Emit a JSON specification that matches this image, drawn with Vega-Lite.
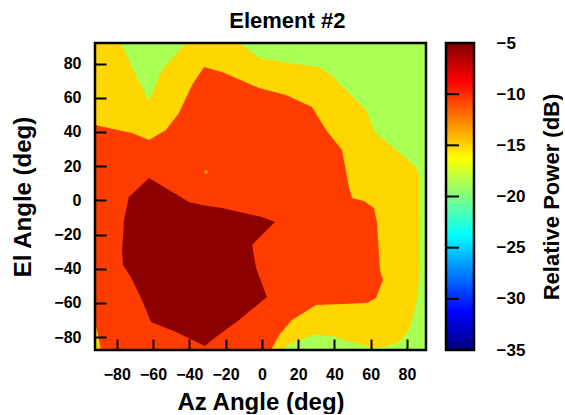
{
  "$schema": "https://vega.github.io/schema/vega-lite/v6.json",
  "padding": {"left": 11, "top": 10, "right": 0, "bottom": 0},
  "background": "white",
  "title": {"text": "Element #2", "fontSize": 22, "font": "Liberation Sans", "fontWeight": "bold", "color": "black", "anchor": "middle", "frame": "bounds", "offset": 1},
  "datasets": {
    "base": [{"level": -18.75}],
    "yellow": [
      {"i": 1, "az": -92, "el": 92, "level": -15.07}, {"i": 2, "az": -77.7, "el": 92, "level": -15.07}, {"i": 3, "az": -70.5, "el": 75.0, "level": -15.07},
      {"i": 4, "az": -62.2, "el": 58.1, "level": -15.07}, {"i": 5, "az": -55.1, "el": 76.2, "level": -15.07}, {"i": 6, "az": -41.8, "el": 92, "level": -15.07},
      {"i": 7, "az": -12.6, "el": 92, "level": -15.07}, {"i": 8, "az": -1.6, "el": 83.2, "level": -15.07}, {"i": 9, "az": 15.0, "el": 80.3, "level": -15.07},
      {"i": 10, "az": 31.5, "el": 78.0, "level": -15.07}, {"i": 11, "az": 38.1, "el": 73.3, "level": -15.07}, {"i": 12, "az": 46.4, "el": 64.5, "level": -15.07},
      {"i": 13, "az": 57.4, "el": 52.8, "level": -15.07}, {"i": 14, "az": 62.4, "el": 40.0, "level": -15.07}, {"i": 15, "az": 85.0, "el": 19.5, "level": -15.07},
      {"i": 16, "az": 86.6, "el": 14.8, "level": -15.07}, {"i": 17, "az": 87.2, "el": -34.9, "level": -15.07}, {"i": 18, "az": 86.1, "el": -54.2, "level": -15.07},
      {"i": 19, "az": 83.9, "el": -65.9, "level": -15.07}, {"i": 20, "az": 81.1, "el": -75.8, "level": -15.07}, {"i": 21, "az": 75.6, "el": -82.9, "level": -15.07},
      {"i": 22, "az": 67.3, "el": -85.8, "level": -15.07}, {"i": 23, "az": 60.7, "el": -86.4, "level": -15.07}, {"i": 24, "az": 49.7, "el": -82.9, "level": -15.07},
      {"i": 25, "az": 38.7, "el": -79.3, "level": -15.07}, {"i": 26, "az": 28.7, "el": -78.8, "level": -15.07}, {"i": 27, "az": 20.5, "el": -81.7, "level": -15.07},
      {"i": 28, "az": 9.5, "el": -87.5, "level": -15.07}, {"i": 29, "az": -92, "el": -87.5, "level": -15.07}
    ],
    "orange": [
      {"i": 1, "az": -92, "el": 44.0, "level": -10.5}, {"i": 2, "az": -71.6, "el": 39.4, "level": -10.5}, {"i": 3, "az": -62.2, "el": 35.3, "level": -10.5},
      {"i": 4, "az": -52.9, "el": 41.1, "level": -10.5}, {"i": 5, "az": -45.7, "el": 51.1, "level": -10.5}, {"i": 6, "az": -38.5, "el": 67.4, "level": -10.5},
      {"i": 7, "az": -31.9, "el": 78.0, "level": -10.5}, {"i": 8, "az": -22.0, "el": 75.0, "level": -10.5}, {"i": 9, "az": -1.6, "el": 65.7, "level": -10.5},
      {"i": 10, "az": 13.3, "el": 61.6, "level": -10.5}, {"i": 11, "az": 27.6, "el": 54.6, "level": -10.5}, {"i": 12, "az": 35.4, "el": 41.1, "level": -10.5},
      {"i": 13, "az": 44.2, "el": 29.4, "level": -10.5}, {"i": 14, "az": 48.0, "el": 7.8, "level": -10.5}, {"i": 15, "az": 49.7, "el": 1.4, "level": -10.5},
      {"i": 16, "az": 56.3, "el": -0.4, "level": -10.5}, {"i": 17, "az": 61.8, "el": -4.5, "level": -10.5}, {"i": 18, "az": 63.5, "el": -13.3, "level": -10.5},
      {"i": 19, "az": 65.1, "el": -40.7, "level": -10.5}, {"i": 20, "az": 66.8, "el": -46.6, "level": -10.5}, {"i": 21, "az": 62.9, "el": -57.1, "level": -10.5},
      {"i": 22, "az": 58.0, "el": -60.0, "level": -10.5}, {"i": 23, "az": 29.9, "el": -61.2, "level": -10.5}, {"i": 24, "az": 16.6, "el": -70.0, "level": -10.5},
      {"i": 25, "az": 9.5, "el": -78.8, "level": -10.5}, {"i": 26, "az": 5.0, "el": -87.5, "level": -10.5}, {"i": 27, "az": -92, "el": -87.5, "level": -10.5}
    ],
    "sliver": [
      {"i": 1, "az": -92, "el": -71.2, "level": -15.07}, {"i": 2, "az": -90.3, "el": -78.8, "level": -15.07}, {"i": 3, "az": -88.7, "el": -87.5, "level": -15.07},
      {"i": 4, "az": -92, "el": -87.5, "level": -15.07}
    ],
    "darkred": [
      {"i": 1, "az": -62.2, "el": 13.1, "level": -5.38}, {"i": 2, "az": -40.2, "el": -1.0, "level": -5.38}, {"i": 3, "az": -33.0, "el": -2.7, "level": -5.38},
      {"i": 4, "az": -22.0, "el": -4.5, "level": -5.38}, {"i": 5, "az": 0.1, "el": -9.8, "level": -5.38}, {"i": 6, "az": 7.2, "el": -12.7, "level": -5.38},
      {"i": 7, "az": -5.4, "el": -26.1, "level": -5.38}, {"i": 8, "az": -3.2, "el": -39.6, "level": -5.38}, {"i": 9, "az": 2.8, "el": -56.5, "level": -5.38},
      {"i": 10, "az": -12.6, "el": -70.0, "level": -5.38}, {"i": 11, "az": -27.5, "el": -81.7, "level": -5.38}, {"i": 12, "az": -31.4, "el": -85.2, "level": -5.38},
      {"i": 13, "az": -47.3, "el": -77.0, "level": -5.38}, {"i": 14, "az": -61.1, "el": -71.2, "level": -5.38}, {"i": 15, "az": -66.1, "el": -58.3, "level": -5.38},
      {"i": 16, "az": -72.2, "el": -44.8, "level": -5.38}, {"i": 17, "az": -76.6, "el": -37.8, "level": -5.38}, {"i": 18, "az": -77.1, "el": -29.1, "level": -5.38},
      {"i": 19, "az": -76.0, "el": -11.5, "level": -5.38}, {"i": 20, "az": -73.3, "el": 2.0, "level": -5.38}
    ],
    "spot": [{"i": 1, "az": -30.8, "el": 16.6, "level": -13.5}],
    "bar": [{"lo": -35, "hi": -5}],
    "cbticks": [{"lo": -30}, {"lo": -25}, {"lo": -20}, {"lo": -15}, {"lo": -10}]
  },
  "spacing": 16,
  "hconcat": [
    {
      "width": 331,
      "height": 307,
      "layer": [
        {
          "data": {"name": "base"},
          "mark": {"type": "rect"},
          "encoding": {
            "color": {"field": "level", "type": "quantitative", "legend": null,
                      "scale": {"domain": [-35, -31.25, -23.75, -16.25, -8.75, -5], "range": ["#00007f", "#0000ff", "#00ffff", "#ffff00", "#ff0000", "#7f0000"], "interpolate": "rgb"}}
          }
        },
        {
          "encoding": {
            "x": {"field": "az", "type": "quantitative", "scale": {"domain": [-92, 90.5], "nice": false, "zero": false},
                  "axis": {"title": "Az Angle (deg)", "values": [-80, -60, -40, -20, 0, 20, 40, 60, 80], "tickSize": -11, "labelPadding": 27, "titlePadding": 8, "labelFlush": false, "zindex": 1}},
            "y": {"field": "el", "type": "quantitative", "scale": {"domain": [-87.5, 92], "nice": false, "zero": false},
                  "axis": {"title": "El Angle (deg)", "values": [-80, -60, -40, -20, 0, 20, 40, 60, 80], "tickSize": -11, "labelPadding": 25, "titlePadding": 18, "zindex": 1}},
            "order": {"field": "i", "type": "quantitative"},
            "color": {"field": "level", "type": "quantitative", "legend": null,
                      "scale": {"domain": [-35, -31.25, -23.75, -16.25, -8.75, -5], "range": ["#00007f", "#0000ff", "#00ffff", "#ffff00", "#ff0000", "#7f0000"], "interpolate": "rgb"}}
          },
          "layer": [
            {"data": {"name": "yellow"}, "mark": {"type": "line", "filled": true, "interpolate": "linear-closed", "clip": true}},
            {"data": {"name": "orange"}, "mark": {"type": "line", "filled": true, "interpolate": "linear-closed", "clip": true}},
            {"data": {"name": "sliver"}, "mark": {"type": "line", "filled": true, "interpolate": "linear-closed", "clip": true}},
            {"data": {"name": "darkred"}, "mark": {"type": "line", "filled": true, "interpolate": "linear-closed", "clip": true}},
            {"data": {"name": "spot"}, "mark": {"type": "point", "filled": true, "size": 12, "opacity": 1}}
          ]
        },
        {
          "data": {"values": [{}]},
          "mark": {"type": "rect", "filled": false, "stroke": "black", "strokeWidth": 2.5},
          "encoding": {}
        }
      ]
    },
    {
      "width": 28,
      "height": 307,
      "encoding": {
        "y": {"field": "lo", "type": "quantitative", "scale": {"domain": [-35, -5], "nice": false, "zero": false},
              "axis": {"orient": "right", "values": [-35, -30, -25, -20, -15, -10, -5], "ticks": false, "tickSize": 0,
                       "labelPadding": 22, "labelFontSize": 17, "labelAlign": "left",
                       "title": "Relative Power (dB)", "titleAngle": 270, "titleBaseline": "top", "titleFontSize": 22, "titlePadding": 17, "zindex": 1}}
      },
      "layer": [
        {
          "data": {"name": "bar"},
          "mark": {"type": "rect", "stroke": "black", "strokeWidth": 2.5,
                   "color": {"gradient": "linear", "x1": 0, "y1": 1, "x2": 0, "y2": 0,
                             "stops": [
                               {"offset": 0, "color": "#00007f"},
                               {"offset": 0.125, "color": "#0000ff"},
                               {"offset": 0.375, "color": "#00ffff"},
                               {"offset": 0.625, "color": "#ffff00"},
                               {"offset": 0.875, "color": "#ff0000"},
                               {"offset": 1, "color": "#7f0000"}
                             ]}},
          "encoding": {"y2": {"field": "hi"}}
        },
        {
          "data": {"name": "cbticks"},
          "mark": {"type": "tick", "orient": "horizontal", "size": 13, "thickness": 2, "color": "black", "opacity": 1, "xOffset": -7.5}
        }
      ]
    }
  ],
  "config": {
    "font": "Liberation Sans",
    "view": {"stroke": null},
    "axis": {
      "labelFont": "Liberation Sans", "labelFontSize": 16, "labelFontWeight": "bold", "labelColor": "black",
      "titleFont": "Liberation Sans", "titleFontSize": 24, "titleFontWeight": "bold", "titleColor": "black",
      "tickColor": "black", "tickWidth": 2, "domain": false, "grid": false
    }
  }
}
